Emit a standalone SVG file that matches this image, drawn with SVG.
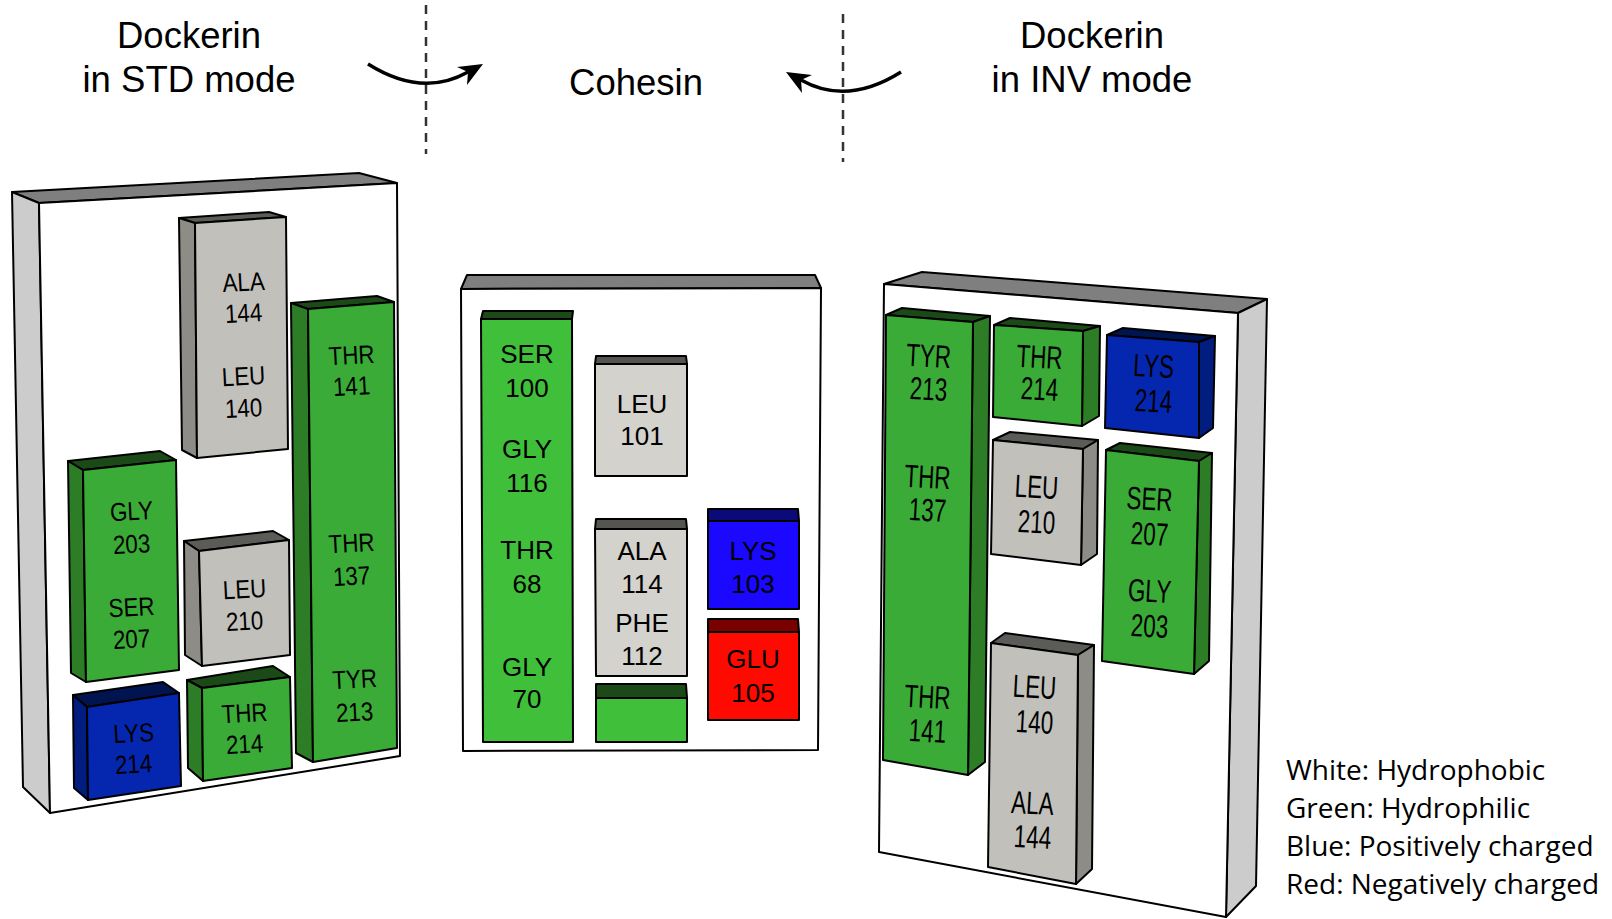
<svg xmlns="http://www.w3.org/2000/svg" width="1612" height="919" viewBox="0 0 1612 919">
<defs>
<style>
.ln{stroke:#000;stroke-width:2;stroke-linejoin:round}
.ptop{fill:#7f7f7f}.pside{fill:#cccccc}.pfront{fill:#fff}
.gf{fill:#3aab37}.gs{fill:#2c7d26}.gt{fill:#1b4a18}
.gmf{fill:#3fbf3a}
.wf{fill:#c1c0bb}.ws{fill:#8d8c87}.wt{fill:#5b5b58}
.wmf{fill:#d3d2cc}.wmt{fill:#555451}
.bf{fill:#0527b0}.bs{fill:#021d80}.bt{fill:#001450}
.bmf{fill:#1a08ff}.bmt{fill:#0a0a78}
.rf{fill:#ff0a00}.rt{fill:#7a0000}
text{font-family:"Liberation Sans",Arial,Helvetica,sans-serif;fill:#000;text-anchor:middle}
.title{font-size:36.5px}
.tl{font-size:26px}
.tm{font-size:26px}
.tr{font-size:32px}
.leg{font-family:"Open Sans","Liberation Sans",sans-serif;font-size:28px;text-anchor:start}
.dash{stroke:#333;stroke-width:2.5;stroke-dasharray:9 7;fill:none}
.arc{stroke:#000;stroke-width:3.5;fill:none}
</style>
</defs>

<g id="titles">
<text class="title" x="189" y="48">Dockerin</text>
<text class="title" x="189" y="92">in STD mode</text>
<text class="title" x="636" y="95">Cohesin</text>
<text class="title" x="1092" y="48">Dockerin</text>
<text class="title" x="1092" y="92">in INV mode</text>
</g>

<g id="connectors">
<line class="dash" x1="426" y1="5" x2="426" y2="154"/>
<line class="dash" x1="843" y1="14" x2="843" y2="162"/>
<g id="arrow-std">
<path class="arc" d="M368,64 Q422,98 468,72"/>
<polygon points="483,64 457,67 468,72 467,85" fill="#000"/>
</g>
<g id="arrow-inv" transform="translate(1269,8) scale(-1,1)">
<path class="arc" d="M368,64 Q422,98 468,72"/>
<polygon points="483,64 457,67 468,72 467,85" fill="#000"/>
</g>
</g>

<!-- STD panel -->
<g id="panel-std">
<polygon class="ln ptop" points="12,192 359,173 397,183 39,203"/>
<polygon class="ln pside" points="12,192 39,203 50,813 23,787"/>
<polygon class="ln pfront" points="39,203 397,183 400,756 50,813"/>
</g>
<g id="std-ala144-leu140">
<polygon class="ln wt" points="179,218 269,212 286,217 195,223"/>
<polygon class="ln ws" points="179,218 195,223 197,458 182,450"/>
<polygon class="ln wf" points="195,223 286,217 288,449 197,458"/>
<text class="tl" transform="translate(244,291) rotate(-3) scale(0.86,1)">ALA</text>
<text class="tl" transform="translate(244,322) rotate(-3) scale(0.86,1)">144</text>
<text class="tl" transform="translate(244,385) rotate(-3) scale(0.86,1)">LEU</text>
<text class="tl" transform="translate(244,417) rotate(-3) scale(0.86,1)">140</text>
</g>
<g id="std-gly203-ser207">
<polygon class="ln gt" points="68,461 160,451 176,460 83,470"/>
<polygon class="ln gs" points="68,461 83,470 86,682 71,673"/>
<polygon class="ln gf" points="83,470 176,460 179,670 86,682"/>
<text class="tl" transform="translate(132,520) rotate(-3) scale(0.86,1)">GLY</text>
<text class="tl" transform="translate(132,553) rotate(-3) scale(0.86,1)">203</text>
<text class="tl" transform="translate(132,616) rotate(-3) scale(0.86,1)">SER</text>
<text class="tl" transform="translate(132,648) rotate(-3) scale(0.86,1)">207</text>
</g>
<g id="std-leu210">
<polygon class="ln wt" points="184,541 273,531 289,540 199,551"/>
<polygon class="ln ws" points="184,541 199,551 202,666 185,655"/>
<polygon class="ln wf" points="199,551 289,540 290,655 202,666"/>
<text class="tl" transform="translate(245,598) rotate(-3) scale(0.86,1)">LEU</text>
<text class="tl" transform="translate(245,630) rotate(-3) scale(0.86,1)">210</text>
</g>
<g id="std-lys214">
<polygon class="ln bt" points="73,695 163,682 179,693 87,707"/>
<polygon class="ln bs" points="73,695 87,707 88,800 74,788"/>
<polygon class="ln bf" points="87,707 179,693 181,786 88,800"/>
<text class="tl" transform="translate(134,742) rotate(-3) scale(0.86,1)">LYS</text>
<text class="tl" transform="translate(134,773) rotate(-3) scale(0.86,1)">214</text>
</g>
<g id="std-thr214">
<polygon class="ln gt" points="187,680 273,666 290,677 202,688"/>
<polygon class="ln gs" points="187,680 202,688 203,781 188,768"/>
<polygon class="ln gf" points="202,688 290,677 292,768 203,781"/>
<text class="tl" transform="translate(245,722) rotate(-3) scale(0.86,1)">THR</text>
<text class="tl" transform="translate(245,753) rotate(-3) scale(0.86,1)">214</text>
</g>
<g id="std-thr141-thr137-tyr213">
<polygon class="ln gt" points="291,303 377,296 394,302 308,309"/>
<polygon class="ln gs" points="291,303 308,309 313,762 296,753"/>
<polygon class="ln gf" points="308,309 394,302 397,748 313,762"/>
<text class="tl" transform="translate(352,364) rotate(-3) scale(0.86,1)">THR</text>
<text class="tl" transform="translate(352,395) rotate(-3) scale(0.86,1)">141</text>
<text class="tl" transform="translate(352,552) rotate(-3) scale(0.86,1)">THR</text>
<text class="tl" transform="translate(352,585) rotate(-3) scale(0.86,1)">137</text>
<text class="tl" transform="translate(355,688) rotate(-3) scale(0.86,1)">TYR</text>
<text class="tl" transform="translate(355,721) rotate(-3) scale(0.86,1)">213</text>
</g>

<!-- Cohesin panel -->
<g id="panel-cohesin">
<polygon class="ln ptop" points="467,275 815,275 821,288 461,289"/>
<polygon class="ln pfront" points="461,289 821,288 818,750 463,751"/>
</g>
<g id="coh-ser100-gly116-thr68-gly70">
<polygon class="ln gt" points="483,311 573,311 572,319 481,319"/>
<polygon class="ln gmf" points="481,319 572,319 573,742 483,742"/>
<text class="tm" x="527" y="363">SER</text>
<text class="tm" x="527" y="397">100</text>
<text class="tm" x="527" y="458">GLY</text>
<text class="tm" x="527" y="492">116</text>
<text class="tm" x="527" y="559">THR</text>
<text class="tm" x="527" y="593">68</text>
<text class="tm" x="527" y="676">GLY</text>
<text class="tm" x="527" y="708">70</text>
</g>
<g id="coh-leu101">
<polygon class="ln wmt" points="596,356 686,356 687,364 595,364"/>
<polygon class="ln wmf" points="595,364 687,364 687,476 595,476"/>
<text class="tm" x="642" y="413">LEU</text>
<text class="tm" x="642" y="445">101</text>
</g>
<g id="coh-ala114-phe112">
<polygon class="ln wmt" points="596,519 686,519 687,529 595,529"/>
<polygon class="ln wmf" points="595,529 687,529 687,676 596,676"/>
<text class="tm" x="642" y="560">ALA</text>
<text class="tm" x="642" y="593">114</text>
<text class="tm" x="642" y="632">PHE</text>
<text class="tm" x="642" y="665">112</text>
</g>
<g id="coh-green-small">
<polygon class="ln gt" points="596,684 686,684 687,698 596,698"/>
<polygon class="ln gmf" points="596,698 687,698 687,742 596,742"/>
</g>
<g id="coh-lys103">
<polygon class="ln bmt" points="708,509 798,509 799,521 708,521"/>
<polygon class="ln bmf" points="708,521 799,521 799,609 708,609"/>
<text class="tm" x="753" y="560">LYS</text>
<text class="tm" x="753" y="593">103</text>
</g>
<g id="coh-glu105">
<polygon class="ln rt" points="708,619 798,619 799,632 708,632"/>
<polygon class="ln rf" points="708,632 799,632 799,720 708,720"/>
<text class="tm" x="753" y="668">GLU</text>
<text class="tm" x="753" y="702">105</text>
</g>

<!-- INV panel -->
<g id="panel-inv">
<polygon class="ln ptop" points="884,284 922,272 1267,299 1238,313"/>
<polygon class="ln pside" points="1238,313 1267,299 1256,886 1226,917"/>
<polygon class="ln pfront" points="884,284 1238,313 1226,917 879,852"/>
</g>
<g id="inv-tyr213-thr137-thr141">
<polygon class="ln gt" points="886,315 902,308 990,316 973,322"/>
<polygon class="ln gs" points="973,322 990,316 985,762 968,775"/>
<polygon class="ln gf" points="886,315 973,322 968,775 883,760"/>
<text class="tr" transform="translate(928,367) rotate(3) scale(0.7,1)">TYR</text>
<text class="tr" transform="translate(928,400) rotate(3) scale(0.7,1)">213</text>
<text class="tr" transform="translate(927,488) rotate(3) scale(0.7,1)">THR</text>
<text class="tr" transform="translate(927,521) rotate(3) scale(0.7,1)">137</text>
<text class="tr" transform="translate(927,708) rotate(3) scale(0.7,1)">THR</text>
<text class="tr" transform="translate(927,742) rotate(3) scale(0.7,1)">141</text>
</g>
<g id="inv-thr214">
<polygon class="ln gt" points="994,325 1010,318 1100,326 1083,331"/>
<polygon class="ln gs" points="1083,331 1100,326 1099,416 1082,426"/>
<polygon class="ln gf" points="994,325 1083,331 1082,426 993,417"/>
<text class="tr" transform="translate(1039,368) rotate(3) scale(0.7,1)">THR</text>
<text class="tr" transform="translate(1039,400) rotate(3) scale(0.7,1)">214</text>
</g>
<g id="inv-lys214">
<polygon class="ln bt" points="1107,335 1123,328 1215,336 1199,342"/>
<polygon class="ln bs" points="1199,342 1215,336 1213,428 1199,438"/>
<polygon class="ln bf" points="1107,335 1199,342 1199,438 1105,428"/>
<text class="tr" transform="translate(1153,377) rotate(3) scale(0.7,1)">LYS</text>
<text class="tr" transform="translate(1153,412) rotate(3) scale(0.7,1)">214</text>
</g>
<g id="inv-leu210">
<polygon class="ln wt" points="993,440 1010,432 1098,440 1083,449"/>
<polygon class="ln ws" points="1083,449 1098,440 1097,554 1081,565"/>
<polygon class="ln wf" points="993,440 1083,449 1081,565 991,554"/>
<text class="tr" transform="translate(1036,498) rotate(3) scale(0.7,1)">LEU</text>
<text class="tr" transform="translate(1036,533) rotate(3) scale(0.7,1)">210</text>
</g>
<g id="inv-ser207-gly203">
<polygon class="ln gt" points="1106,450 1120,443 1212,453 1199,461"/>
<polygon class="ln gs" points="1199,461 1212,453 1209,661 1194,674"/>
<polygon class="ln gf" points="1106,450 1199,461 1194,674 1102,661"/>
<text class="tr" transform="translate(1149,510) rotate(3) scale(0.7,1)">SER</text>
<text class="tr" transform="translate(1149,545) rotate(3) scale(0.7,1)">207</text>
<text class="tr" transform="translate(1149,602) rotate(3) scale(0.7,1)">GLY</text>
<text class="tr" transform="translate(1149,637) rotate(3) scale(0.7,1)">203</text>
</g>
<g id="inv-leu140-ala144">
<polygon class="ln wt" points="991,643 1005,633 1094,645 1078,655"/>
<polygon class="ln ws" points="1078,655 1094,645 1092,869 1076,884"/>
<polygon class="ln wf" points="991,643 1078,655 1076,884 988,867"/>
<text class="tr" transform="translate(1034,698) rotate(3) scale(0.7,1)">LEU</text>
<text class="tr" transform="translate(1034,733) rotate(3) scale(0.7,1)">140</text>
<text class="tr" transform="translate(1032,814) rotate(3) scale(0.7,1)">ALA</text>
<text class="tr" transform="translate(1032,848) rotate(3) scale(0.7,1)">144</text>
</g>

<g id="legend">
<text class="leg" x="1286" y="780">White: Hydrophobic</text>
<text class="leg" x="1286" y="818">Green: Hydrophilic</text>
<text class="leg" x="1286" y="856">Blue: Positively charged</text>
<text class="leg" x="1286" y="894">Red: Negatively charged</text>
</g>
</svg>
